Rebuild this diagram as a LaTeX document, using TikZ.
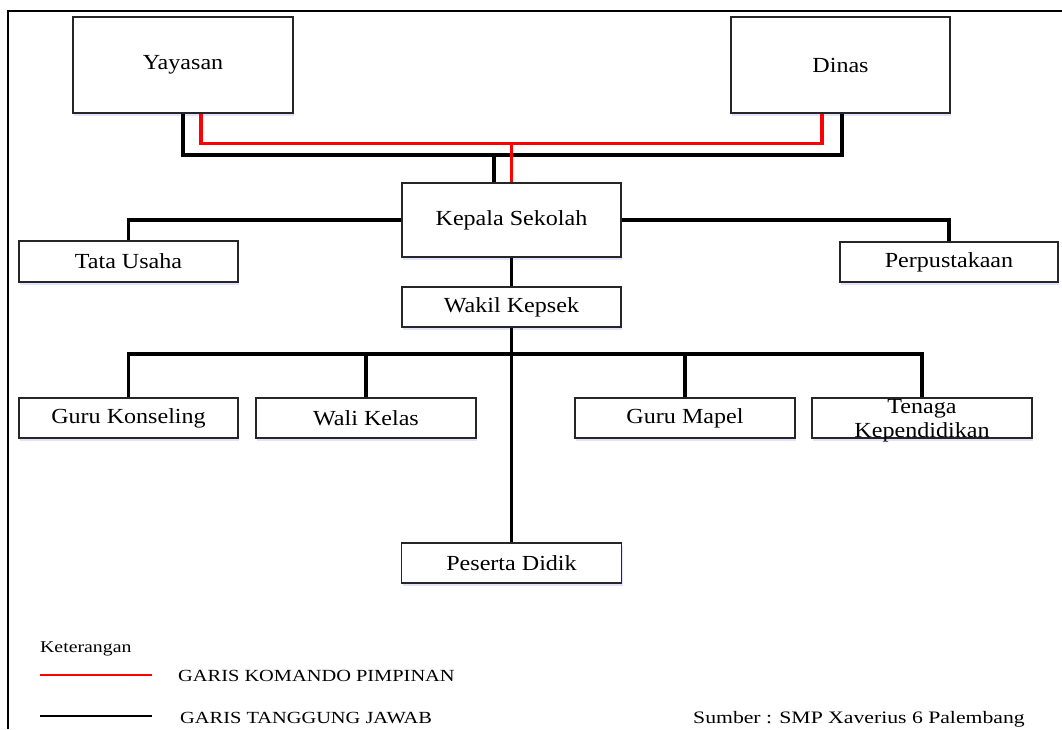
\documentclass[tikz,border=0pt]{standalone}
\usepackage{fontspec}
\setmainfont{Liberation Serif}
\usetikzlibrary{shadows}
\newcommand\hs[1]{\scalebox{1.12}[1]{#1}}
\newcommand\hl[1]{\scalebox{1.2}[1]{#1}}
\tikzset{
  box/.style={draw=black!85, line width=1.2pt, fill=white, rectangle, inner sep=0pt,
    minimum width=219pt, minimum height=40pt,
    font=\fontsize{21.5}{24}\selectfont,
    drop shadow={shadow xshift=1pt, shadow yshift=-3pt, fill=blue!25!white, opacity=.45}},
  blk/.style={line width=3.8pt, black},
  rd/.style={line width=3.3pt, red},
  lgtext/.style={font=\fontsize{16.5}{18}\selectfont, anchor=base west, inner sep=0pt}
}
\begin{document}
\begin{tikzpicture}[x=1pt,y=-1pt]
\useasboundingbox (0,0) rectangle (1062,729);
\fill[white] (0,0) rectangle (1062,729);
% frame
\draw[line width=2pt] (8,729) -- (8,11) -- (1062,11);

% boxes
\node[box, minimum height=96pt, minimum width=220pt] (yay) at (183,65) {\raisebox{-2pt}{\hs{Yayasan}}};
\node[box, minimum height=96pt] (din) at (840.5,65) {\hs{Dinas}};
\node[box, minimum height=74pt] (kep) at (511.5,220) {\hs{Kepala Sekolah}};
\node[box, minimum height=41pt] (tu) at (128.5,261.5) {\hs{Tata Usaha}};
\node[box, minimum width=218pt] (perp) at (949,262) {\hs{Perpustakaan}};
\node[box] (wak) at (511.5,307) {\hs{Wakil Kepsek}};
\node[box] (gk) at (128.5,418) {\hs{Guru Konseling}};
\node[box, minimum width=220pt] (wk) at (366,418) {\hs{Wali Kelas}};
\node[box, minimum width=220pt] (gm) at (685,418) {\hs{Guru Mapel}};
\node[box, minimum width=220pt] (tk) at (922,418) {};
\node[font=\fontsize{21.5}{24}\selectfont, anchor=base, inner sep=0pt] (tk1) at (922,413) {\hs{Tenaga}};
\node[font=\fontsize{21.5}{24}\selectfont, anchor=base, inner sep=0pt] (tk2) at (922,437) {\hs{Kependidikan}};
\node[box, minimum width=220pt] (pes) at (511.5,563) {\hs{Peserta Didik}};

% top connectors
\draw[blk] (yay.south) -- ++(0,41) -| ([xshift=1.5pt]din.south);
\draw[blk] ([xshift=-17.5pt]kep.north) -- ++(0,-29);
\draw[rd] ([xshift=18pt]yay.south) -- ++(0,30) -| ([xshift=-18.5pt]din.south);
\draw[rd] (kep.north) -- ++(0,-40);

% side connectors
\draw[blk] (kep.west) -| (tu.north);
\draw[blk] (kep.east) -| (perp.north);
\draw[blk] (kep.south) -- (wak.north);
\draw[blk] (wak.south) -- (pes.north);

% bus
\coordinate (bus) at (511.5,354);
\draw[blk] (gk.north) |- (bus) -| (tk.north);
\draw[blk] (wk.north) -- (wk.north |- bus);
\draw[blk] (gm.north) -- (gm.north |- bus);

% legend
\node[lgtext] (ket) at (40,652) {\hl{Keterangan}};
\coordinate (r1) at (40,675);
\coordinate (r2) at (152,675);
\draw[red, line width=1.6pt] (r1) -- (r2);
\node[lgtext, font=\fontsize{17}{19}\selectfont] (lg1) at (178,681) {\hl{GARIS KOMANDO PIMPINAN}};
\coordinate (b1) at (40,716);
\coordinate (b2) at (152,716);
\draw[black, line width=1.6pt] (b1) -- (b2);
\node[lgtext, font=\fontsize{17}{19}\selectfont] (lg2) at (180,723) {\hl{GARIS TANGGUNG JAWAB}};
\node[lgtext, font=\fontsize{17.5}{19}\selectfont] (src) at (693,723) {\scalebox{1.24}[1]{Sumber : SMP Xaverius 6 Palembang}};
\end{tikzpicture}
\end{document}
